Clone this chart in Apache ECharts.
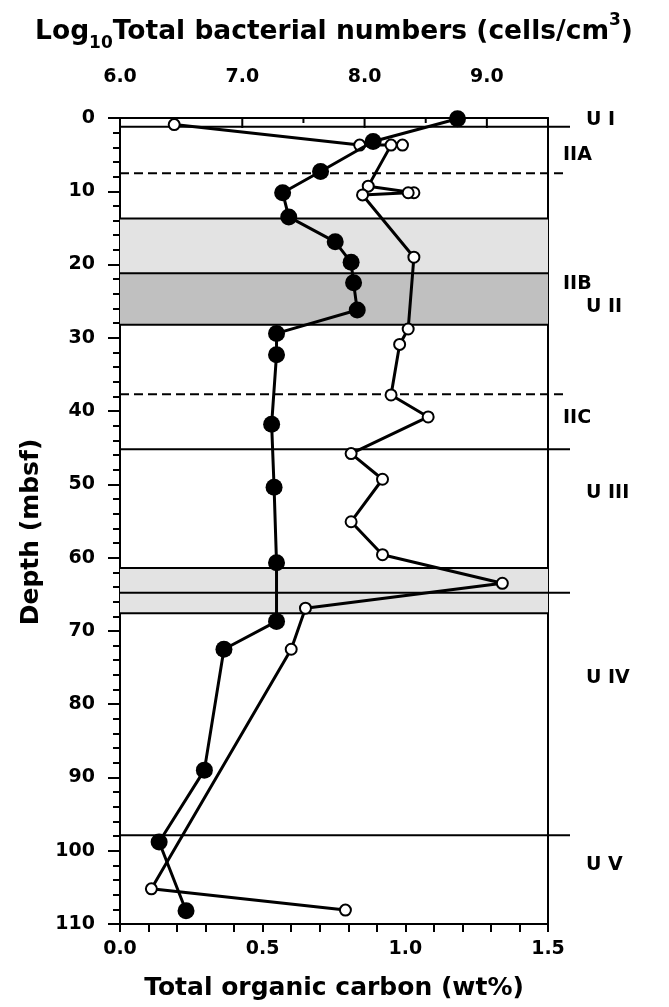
<!DOCTYPE html>
<html><head><meta charset="utf-8">
<script src="https://cdn.jsdelivr.net/npm/echarts@6/dist/echarts.min.js"></script>
<style>html,body{margin:0;padding:0;background:#fff}#c{width:669px;height:1007px}</style>
</head><body><div id="c"></div>
<script>
// Filled circles: Log10 total bacterial numbers (top axis)
const bactDepth = [0.1, 3.2, 7.3, 10.2, 13.5, 16.9, 19.7, 22.5, 26.2, 29.4, 32.3, 41.8, 50.4, 60.7, 68.7, 72.5, 89.0, 98.8, 108.2];
const bactLog   = [8.76, 8.07, 7.64, 7.33, 7.38, 7.76, 7.89, 7.91, 7.94, 7.28, 7.28, 7.24, 7.26, 7.28, 7.28, 6.85, 6.69, 6.32, 6.54];
// Open circles: total organic carbon (bottom axis)
const tocDepth = [0.9, 3.7, 3.7, 3.7, 9.3, 10.2, 10.2, 10.5, 19.0, 28.8, 30.9, 37.8, 40.8, 45.8, 49.3, 55.1, 59.6, 63.5, 66.9, 72.5, 105.2, 108.1];
const tocValue = [0.19, 0.84, 0.99, 0.95, 0.87, 1.03, 1.01, 0.85, 1.03, 1.01, 0.98, 0.95, 1.08, 0.81, 0.92, 0.81, 0.92, 1.34, 0.65, 0.60, 0.11, 0.79];
// Shaded intervals [top, bottom, shade]
const bandTop    = [13.7, 21.2, 61.4];
const bandBottom = [21.2, 28.2, 67.6];
const bandShade  = [0, 1, 0];
// Boundaries
const unitBoundaries   = [1.2, 45.2, 64.8, 97.9];
const innerBoundaries  = [13.7, 21.2, 28.2, 61.4, 67.6];
const dashedBoundaries = [7.55, 37.7];
// Unit labels
const unitLabels = ['U I', 'U II', 'U III', 'U IV', 'U V'];
const unitLabelDepth = [0.3, 25.8, 51.2, 76.5, 102.0];
const subLabels = ['IIA', 'IIB', 'IIC'];
const subLabelDepth = [5.1, 22.6, 40.9];
// Axis settings
const depthMin = 0, depthMax = 110, depthStep = 10;
const tocMin = 0, tocMax = 1.5, tocStep = 0.5;
const bactMin = 6, bactMax = 9.5, bactStep = 1;
const bactLongTicks = [7, 8, 9];
const bactShortTicks = [7.5, 8.5];

const FONT = '"DejaVu Sans", sans-serif';
const chart = echarts.init(document.getElementById('c'), null, {renderer: 'canvas'});

const bandData = bandTop.map((t, i) => [t, bandBottom[i], bandShade[i]]);
const lineData = []
  .concat(unitBoundaries.map(d => [d, 1]))
  .concat(innerBoundaries.map(d => [d, 0]))
  .concat(dashedBoundaries.map(d => [d, 2]));
const labelData = []
  .concat(unitLabels.map((t, i) => [unitLabelDepth[i], 1, t]))
  .concat(subLabels.map((t, i) => [subLabelDepth[i], 0, t]));
const topTickData = []
  .concat(bactLongTicks.map(v => [v, depthMin, 10]))
  .concat(bactShortTicks.map(v => [v, depthMin, 5]));

const axisLineStyle = {color: '#000', width: 2};

chart.setOption({
  animation: false,
  backgroundColor: '#fff',
  grid: {left: 120, right: 121, top: 118, bottom: 83, containLabel: false},
  xAxis: [
    {
      type: 'value', position: 'top', min: bactMin, max: bactMax, interval: bactStep,
      axisLine: {show: true, onZero: false, lineStyle: axisLineStyle},
      axisTick: {show: false},
      minorTick: {show: false},
      splitLine: {show: false},
      axisLabel: {
        margin: 31, color: '#000', fontFamily: FONT, fontWeight: 'bold', fontSize: 19,
        formatter: v => (Math.abs(v - Math.round(v)) < 1e-9 ? v.toFixed(1) : '')
      },
      name: '{a|Log}{s|10}{a|Total bacterial numbers (cells/cm}{p|3}{a|)}',
      nameLocation: 'middle', nameGap: 66,
      nameTextStyle: {
        rich: {
          a: {fontFamily: FONT, fontWeight: 'bold', fontSize: 26.5, color: '#000', lineHeight: 40, verticalAlign: 'middle'},
          s: {fontFamily: FONT, fontWeight: 'bold', fontSize: 17, color: '#000', lineHeight: 16, verticalAlign: 'bottom'},
          p: {fontFamily: FONT, fontWeight: 'bold', fontSize: 17, color: '#000', lineHeight: 35, verticalAlign: 'top'}
        }
      }
    },
    {
      type: 'value', position: 'bottom', min: tocMin, max: tocMax, interval: tocStep,
      axisLine: {show: true, onZero: false, lineStyle: axisLineStyle},
      axisTick: {show: true, inside: false, length: 8, lineStyle: axisLineStyle},
      minorTick: {show: true, splitNumber: 5, length: 8, lineStyle: axisLineStyle},
      splitLine: {show: false},
      axisLabel: {margin: 16, color: '#000', fontFamily: FONT, fontWeight: 'bold', fontSize: 19,
        formatter: v => v.toFixed(1)},
      name: 'Total organic carbon (wt%)', nameLocation: 'middle', nameGap: 52,
      nameTextStyle: {fontFamily: FONT, fontWeight: 'bold', fontSize: 25, color: '#000'}
    }
  ],
  yAxis: [
    {
      type: 'value', inverse: true, min: depthMin, max: depthMax, interval: depthStep,
      axisLine: {show: true, onZero: false, lineStyle: axisLineStyle},
      axisTick: {show: true, inside: false, length: 12, lineStyle: axisLineStyle},
      minorTick: {show: true, splitNumber: 5, length: 7, lineStyle: axisLineStyle},
      splitLine: {show: false},
      axisLabel: {margin: 25, color: '#000', fontFamily: FONT, fontWeight: 'bold', fontSize: 19},
      name: 'Depth (mbsf)', nameLocation: 'middle', nameGap: 76,
      nameTextStyle: {fontFamily: FONT, fontWeight: 'bold', fontSize: 25, color: '#000', padding: [0, 22, 0, 0]}
    },
    {
      type: 'value', position: 'right', inverse: true, min: depthMin, max: depthMax,
      axisLine: {show: true, onZero: false, lineStyle: axisLineStyle},
      axisTick: {show: false}, axisLabel: {show: false}, splitLine: {show: false}
    }
  ],
  series: [
    {
      type: 'custom', name: 'bands', xAxisIndex: 1, yAxisIndex: 0, z: 1, clip: false,
      data: bandData, silent: true,
      renderItem: (params, api) => {
        const p1 = api.coord([tocMin, api.value(0)]);
        const p2 = api.coord([tocMax, api.value(1)]);
        return {
          type: 'rect',
          shape: {x: p1[0], y: p1[1], width: p2[0] - p1[0], height: p2[1] - p1[1]},
          style: {fill: api.value(2) === 1 ? '#c0c0c0' : '#e3e3e3'}
        };
      }
    },
    {
      type: 'custom', name: 'boundaries', xAxisIndex: 1, yAxisIndex: 0, z: 2, clip: false,
      data: lineData, silent: true,
      renderItem: (params, api) => {
        const kind = api.value(1);
        const p1 = api.coord([tocMin, api.value(0)]);
        const p2 = api.coord([tocMax, api.value(0)]);
        const ext = kind === 1 ? 22 : (kind === 2 ? 17 : 0);
        return {
          type: 'line',
          shape: {x1: p1[0], y1: p1[1], x2: p2[0] + ext, y2: p2[1]},
          style: {stroke: '#000', lineWidth: 2, lineDash: kind === 2 ? [9, 5] : null}
        };
      }
    },
    {
      type: 'custom', name: 'topTicks', xAxisIndex: 0, yAxisIndex: 0, z: 2, clip: false,
      data: topTickData, silent: true,
      renderItem: (params, api) => {
        const p = api.coord([api.value(0), api.value(1)]);
        return {
          type: 'line',
          shape: {x1: p[0], y1: p[1], x2: p[0], y2: p[1] + api.value(2)},
          style: {stroke: '#000', lineWidth: 2}
        };
      }
    },
    {
      type: 'line', name: 'TOC', xAxisIndex: 1, yAxisIndex: 0, z: 3,
      data: tocValue.map((v, i) => [v, tocDepth[i]]),
      symbol: 'circle', symbolSize: 11, showAllSymbol: true,
      lineStyle: {color: '#000', width: 3},
      itemStyle: {color: '#fff', borderColor: '#000', borderWidth: 2},
      clip: false
    },
    {
      type: 'line', name: 'Bacteria', xAxisIndex: 0, yAxisIndex: 0, z: 4,
      data: bactLog.map((v, i) => [v, bactDepth[i]]),
      symbol: 'circle', symbolSize: 17, showAllSymbol: true,
      lineStyle: {color: '#000', width: 3},
      itemStyle: {color: '#000', borderColor: '#000', borderWidth: 0},
      clip: false
    },
    {
      type: 'custom', name: 'labels', xAxisIndex: 1, yAxisIndex: 0, z: 5, clip: false,
      data: labelData, silent: true,
      renderItem: (params, api) => {
        const isUnit = api.value(1) === 1;
        const p = api.coord([tocMax, api.value(0)]);
        return {
          type: 'text',
          style: {
            x: p[0] + (isUnit ? 38 : 15), y: p[1],
            text: labelData[params.dataIndex][2],
            fill: '#000', font: 'bold 19px ' + FONT,
            textAlign: 'left', textVerticalAlign: 'middle'
          }
        };
      }
    }
  ]
});
</script>
</body></html>
